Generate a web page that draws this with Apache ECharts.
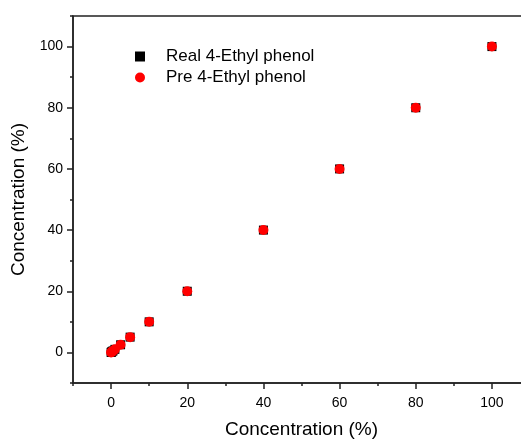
<!DOCTYPE html>
<html>
<head>
<meta charset="utf-8">
<script src="https://cdn.jsdelivr.net/npm/echarts@6/dist/echarts.min.js"></script>
<style>
  html, body { margin: 0; padding: 0; background: #fff; }
  #chart { width: 521px; height: 441px; }
</style>
</head>
<body>
<div id="chart"></div>
<script>
// Calibration concentrations (%) and measured / predicted values
const concentrations = [0, 0.1, 0.25, 0.5, 1, 2.5, 5, 10, 20, 40, 60, 80, 100];
const realValues     = [0, 0.1, 0.25, 0.5, 1, 2.5, 5, 10, 20, 40, 60, 80, 100];
const preValues      = [0, 0.1, 0.25, 0.5, 1, 2.5, 5, 10, 20, 40, 60, 80, 100];

const seriesNames = ['Real 4-Ethyl phenol', 'Pre 4-Ethyl phenol'];
const axisTitle = 'Concentration (%)';

// Tick positions
const majorTicks = [0, 20, 40, 60, 80, 100];
const minorTicks = [-10, 10, 30, 50, 70, 90, 110];
const axisMin = -10;
const axisMax = 110;

const FONT = '"Liberation Sans", Arial, sans-serif';
const AXIS_COLOR = '#222';

function pairs(xs, ys) {
  return xs.map((x, i) => [x, ys[i]]);
}

function mainAxis(isX) {
  return {
    type: 'value',
    min: axisMin,
    max: axisMax,
    position: isX ? 'bottom' : 'left',
    name: axisTitle,
    nameLocation: 'middle',
    nameGap: isX ? 37 : 42,
    nameTextStyle: { fontFamily: FONT, fontSize: 19, color: '#000' },
    splitLine: { show: false },
    axisLine: { show: true, onZero: false, lineStyle: { color: AXIS_COLOR, width: 1.5 } },
    axisTick: {
      show: true, inside: false, length: 6,
      customValues: majorTicks,
      lineStyle: { color: AXIS_COLOR, width: 1.5 }
    },
    axisLabel: {
      show: true,
      customValues: majorTicks,
      margin: isX ? 13 : 10,
      fontFamily: FONT, fontSize: 14, color: '#000'
    }
  };
}

function minorAxis(isX) {
  return {
    type: 'value',
    min: axisMin,
    max: axisMax,
    position: isX ? 'bottom' : 'left',
    splitLine: { show: false },
    axisLine: { show: false, onZero: false },
    axisTick: {
      show: true, inside: false, length: 3,
      customValues: minorTicks,
      lineStyle: { color: AXIS_COLOR, width: 1.5 }
    },
    axisLabel: { show: false }
  };
}

const chart = echarts.init(document.getElementById('chart'), null, { renderer: 'canvas' });

chart.setOption({
  animation: false,
  backgroundColor: '#fff',
  grid: {
    left: 73,
    top: 16,
    width: 457,
    height: 367,
    outerBoundsMode: 'none',
    containLabel: false,
    show: true,
    borderColor: AXIS_COLOR,
    borderWidth: 1.5,
    backgroundColor: 'transparent'
  },
  legend: {
    orient: 'vertical',
    left: 130,
    top: 43,
    itemWidth: 10,
    itemHeight: 10,
    itemGap: 4,
    textStyle: { fontFamily: FONT, fontSize: 17, color: '#000', padding: [0, 0, 0, 16] },
    data: [
      { name: seriesNames[0], icon: 'rect', itemStyle: { color: '#000', opacity: 1 } },
      { name: seriesNames[1], icon: 'circle', itemStyle: { color: '#ff0000', opacity: 1 } }
    ]
  },
  xAxis: [mainAxis(true), minorAxis(true)],
  yAxis: [mainAxis(false), minorAxis(false)],
  series: [
    {
      name: seriesNames[0],
      type: 'scatter',
      xAxisIndex: 0,
      yAxisIndex: 0,
      symbol: 'rect',
      symbolSize: 9,
      itemStyle: { color: '#000', opacity: 1 },
      data: pairs(concentrations, realValues)
    },
    {
      name: seriesNames[1],
      type: 'scatter',
      xAxisIndex: 0,
      yAxisIndex: 0,
      symbol: 'circle',
      symbolSize: 10,
      itemStyle: { color: '#ff0000', opacity: 1 },
      data: pairs(concentrations, preValues)
    }
  ]
});
</script>
</body>
</html>
